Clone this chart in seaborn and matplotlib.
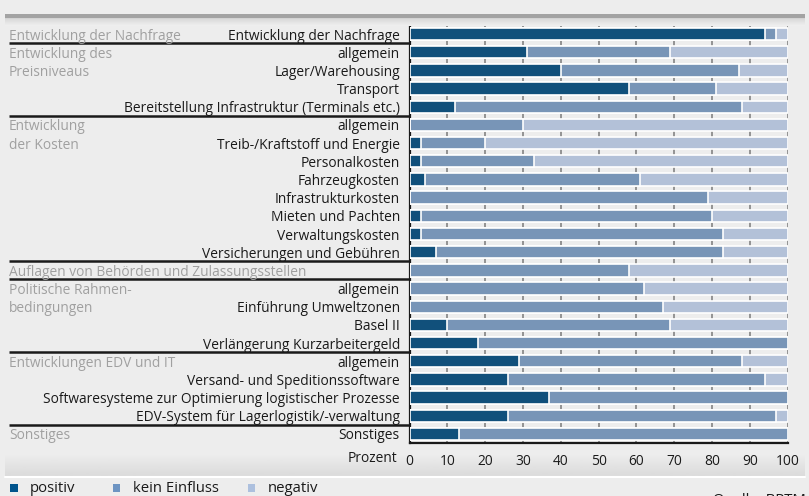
"""
Stacked horizontal bar chart: expected influence of factors (positiv / kein Einfluss / negativ).
"""

import matplotlib.pyplot as plt
import matplotlib.patches as mpatches
import seaborn as sns
import pandas as pd
import numpy as np

# --- data -------------------------------------------------------------------
rows = [
    "Entwicklung der Nachfrage",
    "allgemein",
    "Lager/Warehousing",
    "Transport",
    "Bereitstellung Infrastruktur (Terminals etc.)",
    "allgemein",
    "Treib-/Kraftstoff und Energie",
    "Personalkosten",
    "Fahrzeugkosten",
    "Infrastrukturkosten",
    "Mieten und Pachten",
    "Verwaltungskosten",
    "Versicherungen und Gebühren",
    "",
    "allgemein",
    "Einführung Umweltzonen",
    "Basel II",
    "Verlängerung Kurzarbeitergeld",
    "allgemein",
    "Versand- und Speditionssoftware",
    "Softwaresysteme zur Optimierung logistischer Prozesse",
    "EDV-System für Lagerlogistik/-verwaltung",
    "Sonstiges",
]
positiv = [94, 31, 40, 58, 12, 0, 3, 3, 4, 0, 3, 3, 7, 0, 0, 0, 10, 18, 29, 26, 37, 26, 13]
kein_einfluss = [3, 38, 47, 23, 76, 30, 17, 30, 57, 79, 77, 80, 76, 58, 62, 67, 59, 82, 59, 68, 63, 71, 87]
negativ = [3, 31, 13, 19, 12, 70, 80, 67, 39, 21, 20, 17, 17, 42, 38, 33, 31, 0, 12, 6, 0, 3, 0]

groups = [
    "Entwicklung der Nachfrage",
    "Entwicklung des\nPreisniveaus",
    "Entwicklung\nder Kosten",
    "Auflagen von Behörden und Zulassungsstellen",
    "Politische Rahmen-\nbedingungen",
    "Entwicklungen EDV und IT",
    "Sonstiges",
]
group_sizes = [1, 4, 8, 1, 4, 4, 1]

series_labels = ["positiv", "kein Einfluss", "negativ"]
colors = ["#00548c", "#6d94c2", "#adc0de"]
bg = "#ededed"
dark = "#1a1a1a"

# --- style ------------------------------------------------------------------
sns.set_style("white")
plt.rcParams["font.family"] = ["Open Sans", "DejaVu Sans"]
plt.rcParams["font.size"] = 9.9

W, H = 809, 496
fig = plt.figure(figsize=(W / 100, H / 100), dpi=100, facecolor=bg)

x0, x1, y0, y1 = 409.5, 787.7, 25, 443
ax = fig.add_axes([x0 / W, 1 - y1 / H, (x1 - x0) / W, (y1 - y0) / H])
ax.set_facecolor(bg)

n = len(rows)
df = pd.DataFrame({
    "row": np.arange(n),
    "pos": positiv,
    "kein": kein_einfluss,
    "neg": negativ,
})
df["c1"] = df["pos"]
df["c2"] = df["pos"] + df["kein"]
df["c3"] = df["pos"] + df["kein"] + df["neg"]

# stacked bars: draw cumulative totals back to front
for col, color in zip(["c3", "c2", "c1"], colors[::-1]):
    sns.barplot(data=df, x=col, y="row", orient="h", color=color, width=0.68,
                edgecolor="white", linewidth=1.2, ax=ax, zorder=3)

ax.set_xlim(0, 100)
ax.set_ylim(n - 0.5, -0.5)
ax.set_xlabel("")
ax.set_ylabel("")

# grid
ax.set_xticks(range(0, 101, 10))
ax.xaxis.grid(True, color="#8c8c8c", linewidth=1.3, zorder=0)
ax.set_axisbelow(True)

# spines
for side in ["top", "right"]:
    ax.spines[side].set_visible(False)
for side in ["left", "bottom"]:
    ax.spines[side].set_color(dark)
    ax.spines[side].set_linewidth(1.6)

ax.tick_params(axis="x", direction="inout", length=6, width=1.3, color=dark,
               labelsize=9.9, labelcolor=dark, pad=5)

ax.set_yticks(range(n))
ax.set_yticklabels(rows, color=dark, fontsize=9.9)
ax.tick_params(axis="y", which="major", length=0, pad=7)
ax.set_yticks(np.arange(-0.5, n, 1), minor=True)
ax.tick_params(axis="y", which="minor", direction="out", length=3.5, width=1.5,
               color=dark)

# group labels and separators
tr = ax.get_yaxis_transform()
left = (9 - x0) / (x1 - x0)
start = 0
for name, size in zip(groups, group_sizes):
    for k, line in enumerate(name.split("\n")):
        ax.text(left, start + k, line, transform=tr, ha="left",
                va="center_baseline", color="#a0a0a0", fontsize=9.9,
                clip_on=False)
    if start > 0:
        ax.plot([left, 0], [start - 0.5, start - 0.5], transform=tr,
                color=dark, linewidth=1.8, clip_on=False,
                solid_capstyle="butt")
    start += size

fig.text(397 / W, 1 - 459 / H, "Prozent", ha="right", va="center",
         fontsize=9.9, color=dark)

# top and bottom decorative bands
top_band = fig.add_axes([5 / W, 1 - 26 / H, 800 / W, 12 / H])
top_band.imshow(np.linspace(0.80, 0.93, 12)[:, None], cmap="gray", vmin=0, vmax=1,
                aspect="auto", extent=[0, 1, 0, 1])
top_band.axhline(0.85, color="#a3a3a3", linewidth=3)
top_band.axis("off")

bot_band = fig.add_axes([5 / W, 1 - 476 / H, 800 / W, 22 / H], zorder=-1)
bot_band.imshow(np.linspace(0.93, 0.86, 22)[:, None], cmap="gray", vmin=0, vmax=1,
                aspect="auto", extent=[0, 1, 0, 1])
bot_band.axis("off")
fig.add_artist(plt.Line2D([5 / W, 805 / W], [1 - 477 / H, 1 - 477 / H],
                          color="white", linewidth=1.5))

# legend
legend_x = [10, 113, 248]
for lx, label, color in zip(legend_x, series_labels, colors):
    fig.add_artist(mpatches.Rectangle((lx / W, 1 - 492 / H), 7.5 / W, 8 / H,
                                      facecolor=color, edgecolor="none",
                                      transform=fig.transFigure))
    fig.text((lx + 20) / W, 1 - 488.5 / H, label, ha="left", va="center",
             fontsize=10.7, color=dark)

fig.text(806 / W, 1 - 492.5 / H, "Quelle: BPTM", ha="right", va="top",
         fontsize=10.7, color=dark)

fig.savefig("out.png", dpi=100, facecolor=bg)
